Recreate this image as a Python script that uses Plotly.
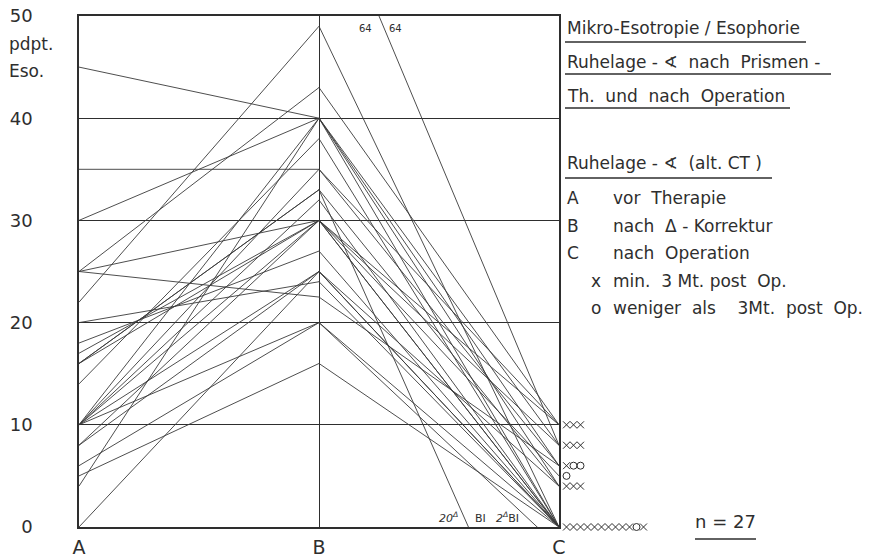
import plotly.graph_objects as go

# ---- data -------------------------------------------------------------
stages = ["A", "B", "C"]
y_ticks = [0, 10, 20, 30, 40, 50]
# Ruhelage-Winkel (pdpt. Eso) per patient: vor Therapie, nach Prismen-Korrektur, nach Operation
vor_therapie = [22, 25, 45, 30, 10, 4, 14, 35, 10, 16, 10, 16, 25, 17, 16, 10, 8, 18, 10, 8, 25, 20, 10, 6, 5, 0, 64]
nach_prismen = [49, 43, 40, 40, 40, 40, 38, 35, 35, 33, 32, 33, 30, 30, 30, 30, 30, 27, 25, 25, 22.5, 24, 20, 20, 16, 25, 64]
nach_op = [0, 10, 6, 4, 0, 8, 0, 6, 10, -20, 0, 4, 10, 8, 0, 0, 5, 0, 0, 4, 6, 0, -2, 0, 0, 0, 8]
# x = min. 3 Mt. post Op., o = weniger als 3 Mt. post Op.
kontrolle = ["x", "x", "x", "x", "x", "x", "x", "o", "x", "", "x", "x", "x", "x", "x", "x",
             "o", "x", "x", "x", "o", "x", "", "x", "o", "x", "x"]
n_patients = 27

# ---- geometry (reference pixel coords, page has an 8px body margin) --
OFF = 8
W, H = 874 - OFF, 558 - OFF
L_REF, R_REF, T_REF, B_REF = 79, 559, 16, 527
M2_L, M2_R = 563, 654            # strip for the follow-up markers
ML = L_REF - OFF
MR = W - (M2_R - OFF)
MT = T_REF - OFF
MB = H - (B_REF - OFF)
PW = M2_R - L_REF
INK = "#2e2e2e"
FONT = "DejaVu Sans, Noto Sans, sans-serif"
unit_px = (R_REF - L_REF) / 2.0


def px(xr):
    return (xr - L_REF) / PW


def py(yr):
    return (B_REF - yr) / (B_REF - T_REF)


fig = go.Figure()

# patient lines
lx, ly = [], []
for a, b, c in zip(vor_therapie, nach_prismen, nach_op):
    lx += [0, 1, 2, None]
    ly += [a, b, c, None]
fig.add_trace(go.Scatter(x=lx, y=ly, mode="lines",
                         line=dict(color="#3a3a3a", width=0.9),
                         hoverinfo="skip", showlegend=False))

# follow-up markers beside C (own small strip subplot)
groups = {}
mx, my, ms = [], [], []
for c, k in zip(nach_op, kontrolle):
    if not k or c < 0:
        continue
    i = groups.get(c, 0)
    groups[c] = i + 1
    mx.append(i)
    my.append(c)
    ms.append("x-thin-open" if k == "x" else "circle-open")
fig.add_trace(go.Scatter(x=mx, y=my, xaxis="x2", yaxis="y2", mode="markers",
                         cliponaxis=False,
                         marker=dict(symbol=ms, size=7, color=INK,
                                     line=dict(color=INK, width=1)),
                         hoverinfo="skip", showlegend=False))

annotations = []
shapes = []


def note(xr, yr, text, size, anchor="center"):
    annotations.append(dict(x=px(xr), y=py(yr), xref="paper", yref="paper", text=text,
                            xanchor=anchor, yanchor="middle", showarrow=False,
                            font=dict(size=size, color=INK, family=FONT)))


def underline(x0, x1, yr):
    shapes.append(dict(type="line", xref="paper", yref="paper",
                       x0=px(x0), x1=px(x1), y0=py(yr), y1=py(yr),
                       line=dict(color=INK, width=1.3)))


# labels for off-chart values
for a, b, c in zip(vor_therapie, nach_prismen, nach_op):
    if b > 50:
        xpix = L_REF + (1 + (b - 50) / (b - c)) * unit_px
        note(xpix - 14, 28, str(a), 10)
        note(xpix + 16, 28, str(b), 10)
    if c < 0:
        xpix = L_REF + (1 + b / (b - c)) * unit_px
        if c <= -10:
            note(xpix - 20, 517, f"<i>{-c}<sup>Δ</sup></i>", 11)
            note(xpix + 12, 518, "BI", 11)
        else:
            note(xpix - 30, 517, f"<i>{-c}<sup>Δ</sup></i>BI", 11)

# y-axis unit text
note(7, 44, "pdpt.", 17, "left")
note(7, 71, "Eso.", 17, "left")

# right-hand text block
title_lines = [("Mikro-Esotropie / Esophorie", 28, 42, 806),
               ("Ruhelage - ∢  nach  Prismen -", 62, 74, 831),
               ("Th.  und  nach  Operation", 96, 108, 790),
               ("Ruhelage - ∢  (alt. CT )", 163, 178, 772)]
for txt, yc, yu, xe in title_lines:
    note(565, yc, txt, 17, "left")
    underline(565, xe, yu)

legend_rows = [("A", 565, "vor  Therapie", 198),
               ("B", 565, "nach  Δ - Korrektur", 226),
               ("C", 565, "nach  Operation", 253),
               ("x", 589, "min.  3 Mt. post  Op.", 281),
               ("o", 589, "weniger  als    3Mt.  post  Op.", 308)]
for key, kx, txt, yc in legend_rows:
    note(kx, yc, key, 17, "left")
    note(611, yc, txt, 17, "left")

note(726, 521, f"n = {n_patients}", 18)
underline(695, 756, 539)

fig.update_layout(
    width=W, height=H,
    margin=dict(l=ML, r=MR, t=MT, b=MB, pad=0, autoexpand=False),
    paper_bgcolor="white", plot_bgcolor="white",
    font=dict(family=FONT, color=INK),
    showlegend=False,
    annotations=annotations,
    shapes=shapes,
    xaxis=dict(domain=[0, px(R_REF)], anchor="y",
               range=[0, 2], tickvals=[0, 1, 2], ticktext=stages,
               showgrid=True, gridcolor=INK, gridwidth=1.3,
               showline=True, linecolor=INK, linewidth=1.5, mirror=True,
               zeroline=False, ticks="", ticklabelstandoff=2, automargin=False,
               ticklabeloverflow="allow",
               tickfont=dict(size=19, color=INK, family=FONT)),
    yaxis=dict(domain=[0, 1], anchor="x",
               range=[0, 50], tickvals=y_ticks,
               showgrid=True, gridcolor=INK, gridwidth=1.3,
               showline=True, linecolor=INK, linewidth=1.5, mirror=True,
               zeroline=False, ticks="", ticklabelstandoff=41, automargin=False,
               ticklabeloverflow="allow",
               tickfont=dict(size=18, color=INK, family=FONT)),
    xaxis2=dict(domain=[px(M2_L), 1], anchor="y2", range=[-0.5, 12.5], visible=False),
    yaxis2=dict(domain=[0, 1], anchor="x2", range=[0, 50], visible=False),
)

fig.write_html("out.html")
